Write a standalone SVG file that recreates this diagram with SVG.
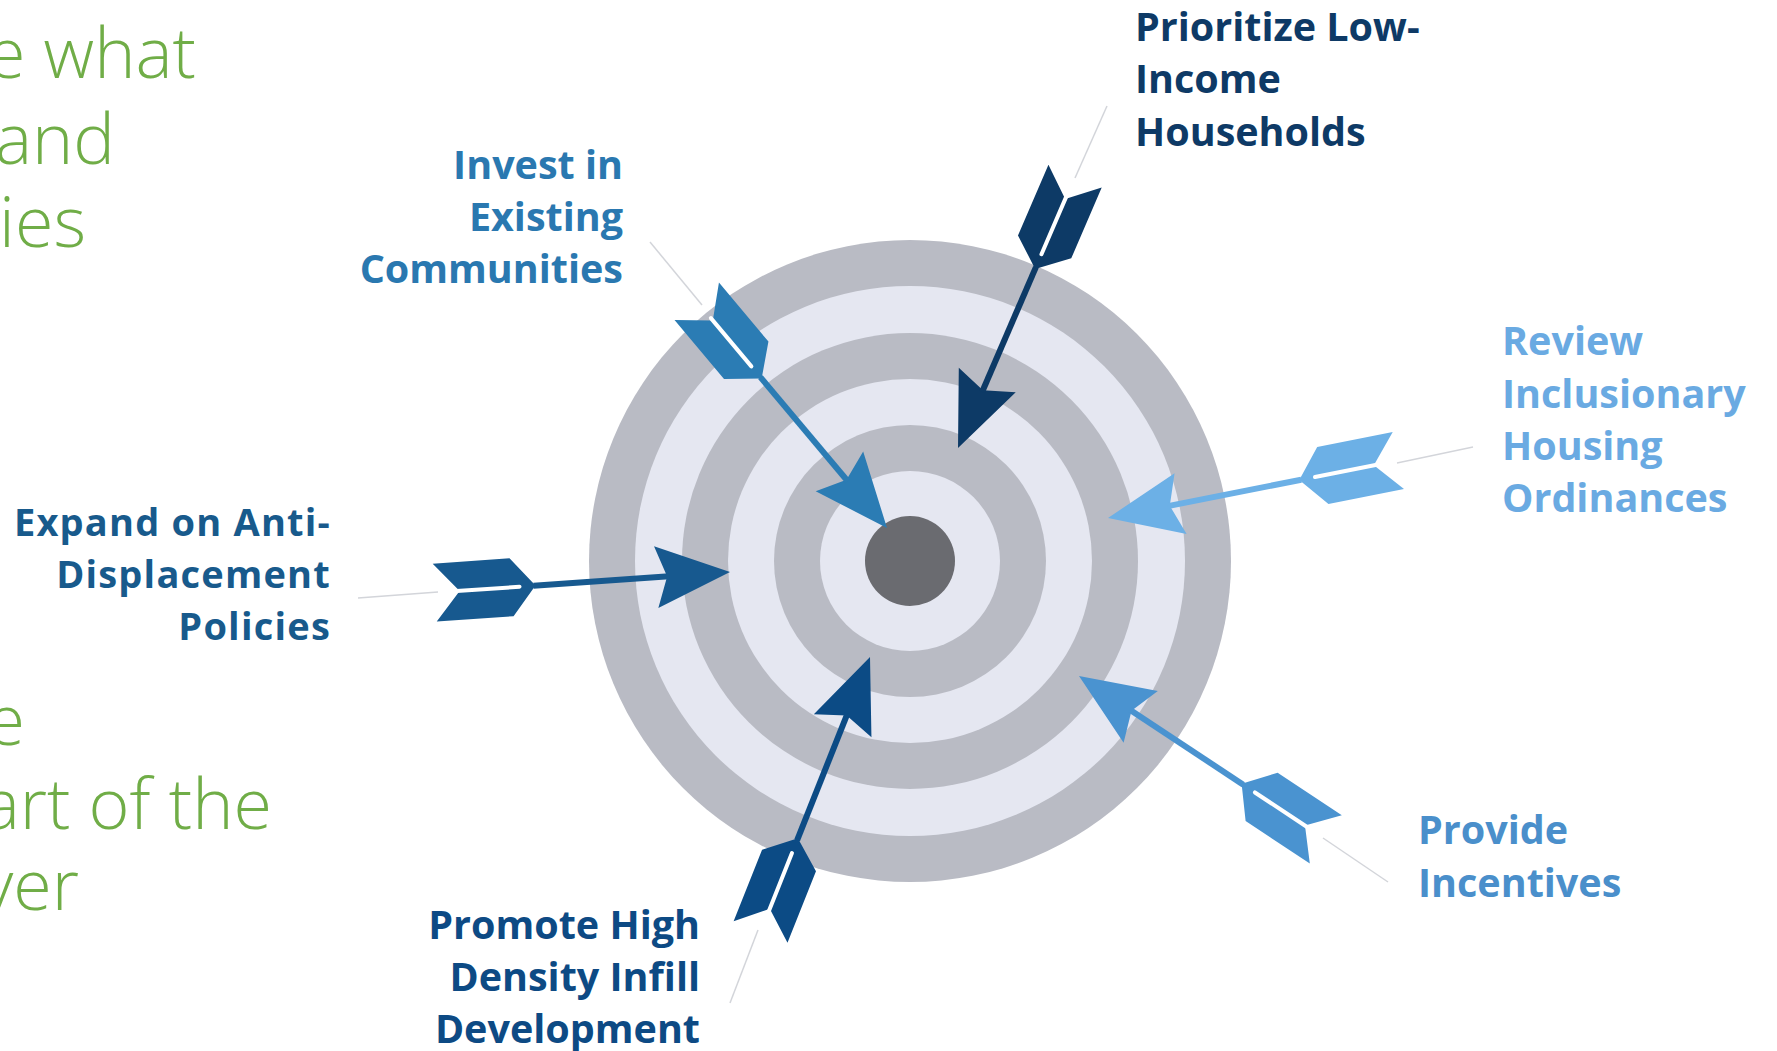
<svg xmlns="http://www.w3.org/2000/svg" xmlns:xlink="http://www.w3.org/1999/xlink" width="1777" height="1051" viewBox="0 0 1777 1051">
<style>
.green{font-family:"Open Sans","Liberation Sans",sans-serif;font-weight:300;font-size:70px;fill:#70AD47;text-anchor:end}
.lbl{font-family:"Open Sans","Liberation Sans",sans-serif;font-weight:700;font-size:39.5px}
.exp{font-size:38px;letter-spacing:1.2px}
.end{text-anchor:end}
.lead{stroke:#d3d5da;stroke-width:1.5;fill:none}
.grey{fill:#b9bbc4}
.light{fill:#e5e7f1}
</style>
<defs>
<g id="arrow">
<path d="M0,0 L-74,-31 L-63,0 L-74,31 Z"/>
<rect x="-197" y="-3" width="136" height="6"/>
<path d="M-195,0 L-219,-29 L-296,-29 L-271,0 L-296,29 L-219,29 Z"/>
<line x1="-274" y1="0" x2="-211" y2="0" stroke="#ffffff" stroke-width="4" stroke-linecap="round"/>
</g>
</defs>
<rect width="1777" height="1051" fill="#ffffff"/>
<g id="side-text">
<text class="green" x="196" y="78">e what</text>
<text class="green" x="115" y="164">and</text>
<text class="green" x="86" y="247">ies</text>
<text class="green" x="25" y="745">e</text>
<text class="green" x="272" y="829">art of the</text>
<text class="green" x="79" y="910">ver</text>
</g>
<g id="target">
<circle class="grey" cx="910" cy="561" r="321"/>
<circle class="light" cx="910" cy="561" r="275"/>
<circle class="grey" cx="910" cy="561" r="228"/>
<circle class="light" cx="910" cy="561" r="182"/>
<circle class="grey" cx="910" cy="561" r="136"/>
<circle class="light" cx="910" cy="561" r="90"/>
<circle cx="910" cy="561" r="45" fill="#6a6b70"/>
</g>
<g id="connectors">
<line class="lead" x1="1107" y1="106" x2="1075" y2="178"/>
<line class="lead" x1="650" y1="242" x2="702" y2="305"/>
<line class="lead" x1="1397" y1="463" x2="1473" y2="447"/>
<line class="lead" x1="1323" y1="838" x2="1388" y2="882"/>
<line class="lead" x1="358" y1="598" x2="438" y2="592"/>
<line class="lead" x1="758" y1="930" x2="730" y2="1003"/>
</g>
<g id="node-prioritize">
<use xlink:href="#arrow" href="#arrow" fill="#0d3a66" transform="translate(958,448) rotate(113.3)"/>
<text class="lbl" fill="#0e3a66"><tspan x="1135" y="41">Prioritize Low-</tspan><tspan x="1135" y="93">Income</tspan><tspan x="1135" y="146">Households</tspan></text>
</g>
<g id="node-invest">
<use xlink:href="#arrow" href="#arrow" fill="#2b7cb4" transform="translate(887,528) rotate(50)"/>
<text class="lbl end" fill="#2a78b0"><tspan x="623" y="179">Invest in</tspan><tspan x="623" y="231">Existing</tspan><tspan x="623" y="283">Communities</tspan></text>
</g>
<g id="node-review">
<use xlink:href="#arrow" href="#arrow" fill="#6cb0e6" transform="translate(1108,518) rotate(168.8)"/>
<text class="lbl" fill="#6aaae2"><tspan x="1502" y="355">Review</tspan><tspan x="1502" y="408">Inclusionary</tspan><tspan x="1502" y="460">Housing</tspan><tspan x="1502" y="512">Ordinances</tspan></text>
</g>
<g id="node-provide">
<use xlink:href="#arrow" href="#arrow" fill="#4a93d0" transform="translate(1079,676) rotate(213.5)"/>
<text class="lbl" fill="#4a8fcb"><tspan x="1418" y="844">Provide</tspan><tspan x="1418" y="897">Incentives</tspan></text>
</g>
<g id="node-expand">
<use xlink:href="#arrow" href="#arrow" fill="#17598f" transform="translate(730,572) rotate(-4)"/>
<text class="lbl exp end" fill="#185a8c"><tspan x="331" y="536">Expand on Anti-</tspan><tspan x="331" y="588">Displacement</tspan><tspan x="331" y="640">Policies</tspan></text>
</g>
<g id="node-promote">
<use xlink:href="#arrow" href="#arrow" fill="#0c4b85" transform="translate(870,657) rotate(-68.3)"/>
<text class="lbl end" fill="#0d4a84"><tspan x="700" y="939">Promote High</tspan><tspan x="700" y="991">Density Infill</tspan><tspan x="700" y="1043">Development</tspan></text>
</g>
</svg>
